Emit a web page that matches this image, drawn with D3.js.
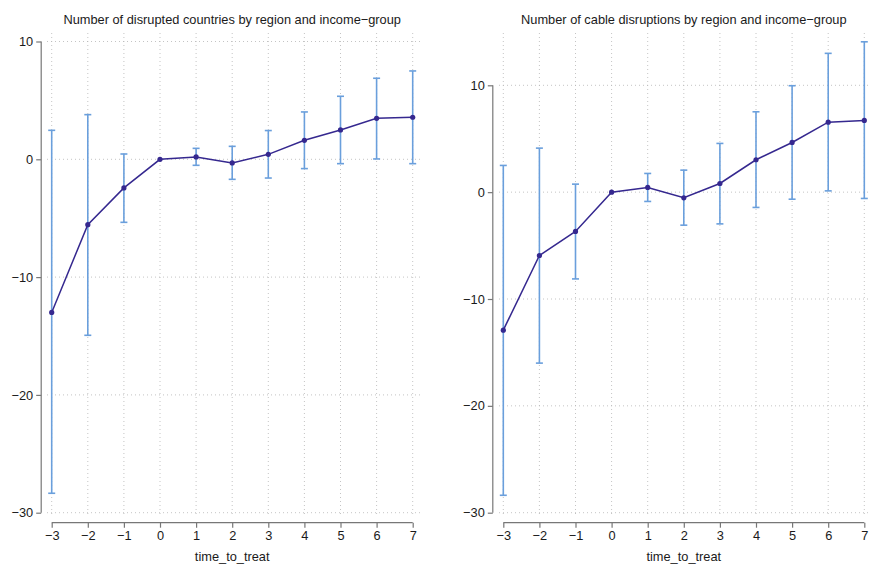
<!DOCTYPE html>
<html>
<head>
<meta charset="utf-8">
<script src="https://cdn.jsdelivr.net/npm/d3@7"></script>
<style>
  body { margin: 0; background: #fff; }
  text { font-family: "Liberation Sans", Arial, sans-serif; fill: #1a1a1a; }
</style>
</head>
<body>
<svg id="chart" width="873" height="568"></svg>
<script>
// data
const periods = [-3, -2, -1, 0, 1, 2, 3, 4, 5, 6, 7];
const yTicks = [-30, -20, -10, 0, 10];

const countriesEst = [-13.0, -5.55, -2.43, 0, 0.2, -0.31, 0.42, 1.61, 2.49, 3.48, 3.57];
const countriesLow = [-28.35, -14.94, -5.35, 0, -0.51, -1.7, -1.59, -0.79, -0.37, 0.03, -0.37];
const countriesHigh = [2.46, 3.79, 0.45, 0, 0.93, 1.1, 2.44, 4.02, 5.35, 6.88, 7.5];

const cablesEst = [-12.92, -5.93, -3.68, 0, 0.44, -0.53, 0.81, 3.03, 4.65, 6.55, 6.71];
const cablesLow = [-28.37, -16.0, -8.12, 0, -0.87, -3.09, -2.97, -1.43, -0.66, 0.12, -0.59];
const cablesHigh = [2.5, 4.12, 0.75, 0, 1.75, 2.06, 4.56, 7.52, 9.96, 12.99, 14.07];

const panels = [
  { title: "Number of disrupted countries by region and income\u2212group",
    est: countriesEst, low: countriesLow, high: countriesHigh,
    x0: 51.7, x1: 412.7, yTop: 41.5, yMax: 10, gridL: 47, gridR: 420 },
  { title: "Number of cable disruptions by region and income\u2212group",
    est: cablesEst, low: cablesLow, high: cablesHigh,
    x0: 503.3, x1: 864.3, yTop: 85.3, yMax: 10, gridL: 499, gridR: 871 }
];

const lineColor = "#35288f";
const ciColor = "#6a9fdc";
const gridColor = "#b5b5b5";
const yBottom = 512.7, xAxisY = 522.7, gridTop = 33, gridBottom = 517;
const fontSize = "12.8px";

const svg = d3.select("#chart");

function drawPanel(p) {
  let x = d3.scaleLinear().domain([-3, 7]).range([p.x0, p.x1]);
  let y = d3.scaleLinear().domain([-30, p.yMax]).range([yBottom, p.yTop]);
  let g = svg.append("g");
  let axisX = p.x0 - 10.5;

  // dotted grid
  g.append("g").selectAll("line").data(periods).enter().append("line")
    .attr("x1", d => x(d)).attr("x2", d => x(d))
    .attr("y1", gridTop).attr("y2", gridBottom)
    .attr("stroke", gridColor).attr("stroke-width", 0.8)
    .attr("stroke-dasharray", "1,3");
  g.append("g").selectAll("line").data(yTicks).enter().append("line")
    .attr("x1", p.gridL).attr("x2", p.gridR)
    .attr("y1", d => y(d)).attr("y2", d => y(d))
    .attr("stroke", gridColor).attr("stroke-width", 0.8)
    .attr("stroke-dasharray", "1,3");

  // axes
  let ya = g.append("g")
    .attr("transform", "translate(" + axisX + ",0)")
    .call(d3.axisLeft(y).tickValues(yTicks).tickSize(5).tickPadding(3)
          .tickSizeOuter(0));
  let xa = g.append("g")
    .attr("transform", "translate(0," + xAxisY + ")")
    .call(d3.axisBottom(x).tickValues(periods).tickSize(5).tickPadding(3)
          .tickSizeOuter(0));
  [ya, xa].forEach(a => {
    a.select(".domain").attr("stroke", "#777").attr("stroke-width", 1.2);
    a.selectAll(".tick line").attr("stroke", "#777").attr("stroke-width", 1.2);
    a.selectAll("text").style("font-size", fontSize)
      .style("font-family", "'Liberation Sans', Arial, sans-serif").attr("fill", "#1a1a1a");
  });
  ya.select(".domain").attr("d", "M0," + y(-30) + "V" + y(p.yMax));
  xa.select(".domain").attr("d", "M" + x(-3) + ",0H" + x(7));

  g.append("text")
    .attr("x", (p.x0 + p.x1) / 2).attr("y", 24)
    .attr("text-anchor", "middle").style("font-size", fontSize)
    .text(p.title);
  g.append("text")
    .attr("x", (p.x0 + p.x1) / 2).attr("y", 561)
    .attr("text-anchor", "middle").style("font-size", fontSize)
    .text("time_to_treat");

  // confidence intervals
  let rows = periods.map((t, i) => ({ t: t, est: p.est[i], low: p.low[i], high: p.high[i] }));
  let ci = g.append("g").selectAll("g").data(rows.filter(d => d.high > d.low)).enter().append("g")
    .attr("stroke", ciColor).attr("stroke-width", 1.6);
  ci.append("line")
    .attr("x1", d => x(d.t)).attr("x2", d => x(d.t))
    .attr("y1", d => y(d.low)).attr("y2", d => y(d.high));
  ci.append("line")
    .attr("x1", d => x(d.t) - 3.5).attr("x2", d => x(d.t) + 3.5)
    .attr("y1", d => y(d.low)).attr("y2", d => y(d.low));
  ci.append("line")
    .attr("x1", d => x(d.t) - 3.5).attr("x2", d => x(d.t) + 3.5)
    .attr("y1", d => y(d.high)).attr("y2", d => y(d.high));

  // estimates
  g.append("path").datum(rows)
    .attr("fill", "none").attr("stroke", lineColor).attr("stroke-width", 1.5)
    .attr("d", d3.line().x(d => x(d.t)).y(d => y(d.est)));
  g.append("g").selectAll("circle").data(rows).enter().append("circle")
    .attr("cx", d => x(d.t)).attr("cy", d => y(d.est)).attr("r", 2.6)
    .attr("fill", lineColor);
}

panels.forEach(drawPanel);
</script>
</body>
</html>
